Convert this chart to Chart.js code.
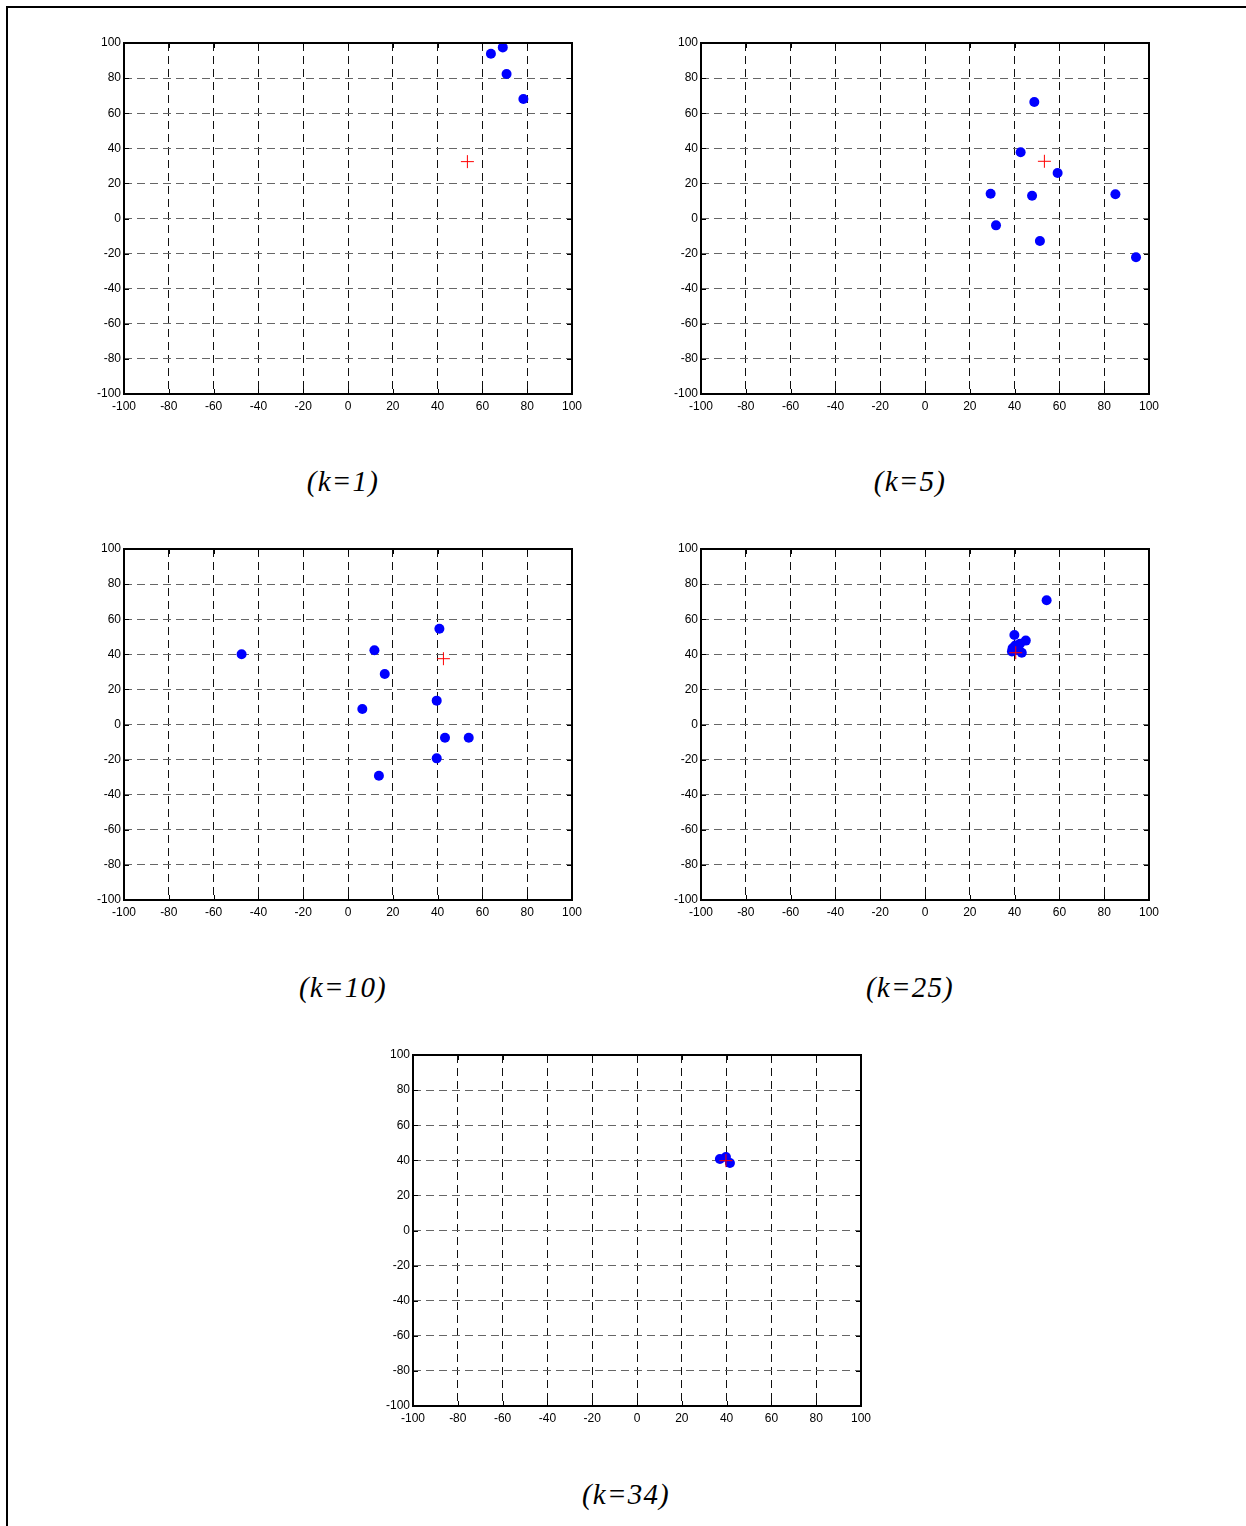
<!DOCTYPE html>
<html>
<head>
<meta charset="utf-8">
<script src="https://cdn.jsdelivr.net/npm/chart.js@4.4.1/dist/chart.umd.min.js"></script>
<style>
  html, body { margin: 0; padding: 0; background: #fff; }
  body { width: 1246px; height: 1526px; position: relative; overflow: hidden; }
  .frame { position: absolute; left: 6px; top: 6px; right: -10px; bottom: -10px;
           border-top: 2px solid #000; border-left: 2px solid #000; }
  .panel { position: absolute; }
  .caption { position: absolute; width: 300px; text-align: center;
             font-family: 'Liberation Serif', 'Times New Roman', serif;
             font-style: italic; font-size: 29px; line-height: 34px; color: #000;
             letter-spacing: 1.2px; }
</style>
</head>
<body>
<div class="frame"></div>

<script>
// particle positions at each iteration k, plus the best position (red cross)
const k1X = [63.8, 69.1, 70.8, 78.3];
const k1Y = [93.9, 97.5, 82.3, 68.1];
const k1Best = [53.3, 32.4];

const k5X = [48.8, 42.7, 59.2, 29.3, 47.8, 85.0, 31.7, 51.3, 94.2];
const k5Y = [66.4, 37.7, 25.9, 14.1, 13.0, 13.8, -3.9, -12.8, -22.1];
const k5Best = [53.3, 32.6];

const k10X = [-47.5, 11.8, 40.8, 16.4, 6.4, 39.6, 43.3, 53.9, 39.6, 13.8];
const k10Y = [40.0, 42.3, 54.6, 28.8, 8.8, 13.6, -7.5, -7.5, -19.3, -29.2];
const k10Best = [42.6, 37.5];

const k25X = [54.3, 39.9, 45.0, 42.4, 39.1, 43.2, 40.3, 41.5, 38.8];
const k25Y = [70.8, 51.0, 47.8, 46.0, 43.4, 40.9, 45.0, 42.5, 41.6];
const k25Best = [40.5, 40.9];

const k34X = [37.0, 39.7, 41.5];
const k34Y = [40.7, 41.9, 38.5];
const k34Best = [39.7, 39.8];

const axisMin = -100;
const axisMax = 100;
const tickStep = 20;

const captions = ['(k=1)', '(k=5)', '(k=10)', '(k=25)', '(k=34)'];

// plot-area placement of each panel (left, top of the axes box)
const panels = [
  { xs: k1X, ys: k1Y, best: k1Best, left: 124, top: 43, capX: 343, capY: 464 },
  { xs: k5X, ys: k5Y, best: k5Best, left: 701, top: 43, capX: 910, capY: 464 },
  { xs: k10X, ys: k10Y, best: k10Best, left: 124, top: 549, capX: 343, capY: 970 },
  { xs: k25X, ys: k25Y, best: k25Best, left: 701, top: 549, capX: 910, capY: 970 },
  { xs: k34X, ys: k34Y, best: k34Best, left: 413, top: 1055, capX: 626, capY: 1477 }
];

const PLOT_W = 448, PLOT_H = 351;
const PAD_L = 60, PAD_T = 12, PAD_R = 20, PAD_B = 30;

// solid box around the axes plus small inward ticks, like matlab
const boxPlugin = {
  id: 'box',
  afterDraw(chart) {
    const { ctx, chartArea: a, scales } = chart;
    ctx.save();
    ctx.strokeStyle = '#000';
    ctx.lineWidth = 1;
    ctx.beginPath();
    scales.x.ticks.forEach(t => {
      const px = Math.round(scales.x.getPixelForValue(t.value)) + 0.5;
      ctx.moveTo(px, a.bottom); ctx.lineTo(px, a.bottom - 5);
      ctx.moveTo(px, a.top); ctx.lineTo(px, a.top + 5);
    });
    scales.y.ticks.forEach(t => {
      const py = Math.round(scales.y.getPixelForValue(t.value)) + 0.5;
      ctx.moveTo(a.left, py); ctx.lineTo(a.left + 5, py);
      ctx.moveTo(a.right, py); ctx.lineTo(a.right - 5, py);
    });
    ctx.stroke();
    ctx.lineWidth = 2;
    ctx.strokeRect(Math.round(a.left), Math.round(a.top),
                   Math.round(a.right - a.left), Math.round(a.bottom - a.top));
    ctx.restore();
  }
};

panels.forEach((p, i) => {
  const canvas = document.createElement('canvas');
  canvas.className = 'panel';
  canvas.width = PLOT_W + PAD_L + PAD_R;
  canvas.height = PLOT_H + PAD_T + PAD_B;
  canvas.style.left = (p.left - PAD_L) + 'px';
  canvas.style.top = (p.top - PAD_T) + 'px';
  document.body.appendChild(canvas);

  const cap = document.createElement('div');
  cap.className = 'caption';
  cap.textContent = captions[i];
  cap.style.left = (p.capX - 150) + 'px';
  cap.style.top = p.capY + 'px';
  document.body.appendChild(cap);

  const tickFont = { family: "'Liberation Sans', Arial, sans-serif", size: 12 };

  new Chart(canvas.getContext('2d'), {
    type: 'scatter',
    data: {
      datasets: [
        {
          data: [{ x: p.best[0], y: p.best[1] }],
          pointStyle: 'cross',
          pointRadius: 6.5,
          borderColor: '#ff0000',
          borderWidth: 1,
          backgroundColor: '#ff0000'
        },
        {
          data: p.xs.map((x, j) => ({ x: x, y: p.ys[j] })),
          pointStyle: 'circle',
          pointRadius: 5,
          borderWidth: 0,
          backgroundColor: '#0000ff',
          borderColor: '#0000ff'
        }
      ]
    },
    plugins: [boxPlugin],
    options: {
      responsive: false,
      animation: false,
      devicePixelRatio: 1,
      layout: { padding: { left: 0, top: PAD_T, right: PAD_R, bottom: 0 } },
      plugins: {
        legend: { display: false },
        tooltip: { enabled: false }
      },
      scales: {
        x: {
          type: 'linear',
          min: axisMin,
          max: axisMax,
          afterFit: (s) => { s.height = PAD_B; },
          border: { display: false, dash: [8, 5] },
          grid: {
            color: '#111',
            lineWidth: 1,
            drawTicks: false
          },
          ticks: {
            stepSize: tickStep,
            color: '#000',
            font: tickFont,
            padding: 5,
            maxRotation: 0,
            autoSkip: false
          }
        },
        y: {
          type: 'linear',
          min: axisMin,
          max: axisMax,
          afterFit: (s) => { s.width = PAD_L; },
          border: { display: false, dash: [8, 5] },
          grid: {
            color: '#666',
            lineWidth: 1,
            drawTicks: false
          },
          ticks: {
            stepSize: tickStep,
            color: '#000',
            font: tickFont,
            padding: 3,
            autoSkip: false
          }
        }
      }
    }
  });
});
</script>
</body>
</html>
